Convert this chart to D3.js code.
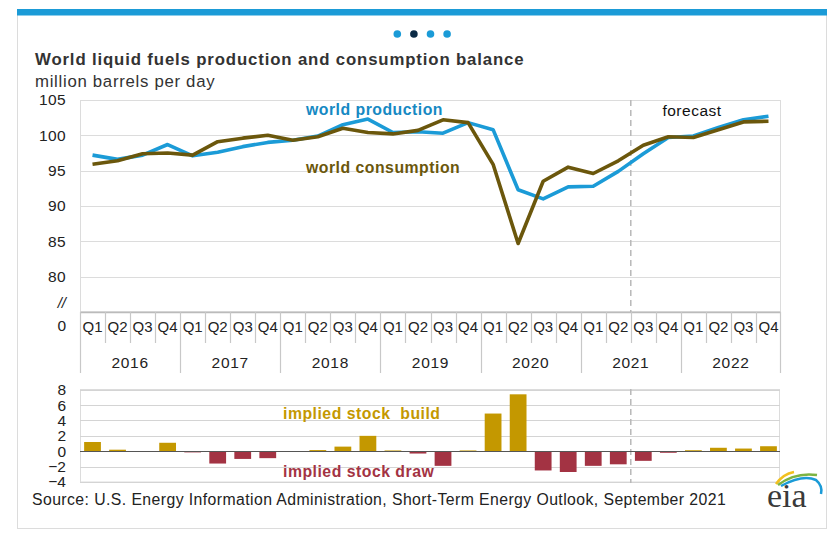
<!DOCTYPE html>
<html><head><meta charset="utf-8">
<script src="https://cdn.jsdelivr.net/npm/d3@7"></script>
<style>body{margin:0;background:#fff;}svg{display:block;font-family:"Liberation Sans",Arial,sans-serif;}</style>
</head><body><svg id="c" width="839" height="540"></svg>
<script>
const years = ["2016","2017","2018","2019","2020","2021","2022"];
const quarterNames = ["Q1","Q2","Q3","Q4"];
const production = [97.2,96.6,97.2,98.7,97.1,97.6,98.4,99.0,99.3,99.9,101.5,102.3,100.4,100.5,100.3,101.8,100.8,92.3,91.0,92.7,92.8,94.9,97.4,99.7,99.9,101.1,102.2,102.7];
const consumption = [95.9,96.4,97.4,97.5,97.2,99.1,99.6,100.0,99.3,99.8,101.0,100.4,100.2,100.7,102.2,101.8,95.9,84.7,93.5,95.5,94.6,96.4,98.6,99.8,99.7,100.8,101.9,102.0];
const stockChange = [1.2,0.2,-0.1,1.1,-0.15,-1.6,-1.0,-0.9,0.0,0.15,0.6,2.0,0.1,-0.3,-1.9,0.1,4.9,7.4,-2.5,-2.7,-1.9,-1.7,-1.25,-0.2,0.13,0.45,0.35,0.65];
const upperTicks = [80,85,90,95,100,105];
const lowerTicks = [-4,-2,0,2,4,6,8];

const quarters = [];
years.forEach(y => quarterNames.forEach(q => quarters.push(y + q)));

const svg = d3.select("#c");
// frame
svg.append("rect").attr("x",17.5).attr("y",9.5).attr("width",809).attr("height",519).attr("fill","#fff").attr("stroke","#dcdcdc");
svg.append("rect").attr("x",17).attr("y",9).attr("width",810).attr("height",6.5).attr("fill","#1b9bd7");
// dots
[0,1,2,3].forEach(i => svg.append("circle").attr("cx",397.3+i*16.6).attr("cy",34).attr("r",3.8)
  .attr("fill", i===1 ? "#0b2a45" : "#1b9bd7"));

svg.append("text").attr("x",35).attr("y",65).attr("font-size",16.8).attr("font-weight","bold").attr("fill","#333")
  .attr("letter-spacing",0.85).text("World liquid fuels production and consumption balance");
svg.append("text").attr("x",35).attr("y",87).attr("font-size",16.8).attr("fill","#333").attr("letter-spacing",0.7).text("million barrels per day");

const x = d3.scaleBand().domain(quarters).range([80,781]).paddingInner(0.33).paddingOuter(0.165);
const xc = d => x(d) + x.bandwidth()/2;
const step = x.step();

// ---- upper chart
const y = d3.scaleLinear().domain([75,105]).range([312,100]);
const up = svg.append("g");
up.append("rect").attr("x",80.5).attr("y",100.5).attr("width",700).attr("height",211).attr("fill","none").attr("stroke","#dcdcdc");
up.selectAll(".g").data(upperTicks).join("line").attr("x1",80).attr("x2",781)
  .attr("y1",d=>Math.round(y(d))+0.5).attr("y2",d=>Math.round(y(d))+0.5).attr("stroke","#dcdcdc").attr("stroke-width",1.2);
const yAx = up.append("g").attr("transform","translate(80,0)").call(d3.axisLeft(y).tickValues(upperTicks).tickSize(0).tickPadding(14));
yAx.select(".domain").remove();
yAx.selectAll("text").attr("font-size",15.5).attr("fill","#222").attr("letter-spacing",0.4).attr("font-family","Liberation Sans, Arial, sans-serif");
up.append("text").attr("x",66).attr("y",308).attr("text-anchor","end").attr("font-size",15).attr("font-style","italic").attr("fill","#222").text("//");
up.append("text").attr("x",66).attr("y",331).attr("text-anchor","end").attr("font-size",15.5).attr("fill","#222").text("0");

// x-axis
up.append("line").attr("x1",80).attr("x2",781).attr("y1",312.5).attr("y2",312.5).attr("stroke","#bbb").attr("stroke-width",1.5);
quarters.forEach((q,i) => {
  const left = 80 + i*step;
  const isYear = i % 4 === 0;
  up.append("line").attr("x1",Math.round(left)+0.5).attr("x2",Math.round(left)+0.5).attr("y1",312).attr("y2",isYear?373:343)
    .attr("stroke","#c8c8c8").attr("stroke-width",1.2);
});
up.append("line").attr("x1",780.5).attr("x2",780.5).attr("y1",312).attr("y2",373).attr("stroke","#c8c8c8").attr("stroke-width",1.2);
up.selectAll(".ql").data(quarters).join("text").attr("x",d=>xc(d)).attr("y",332).attr("text-anchor","middle")
  .attr("font-size",15).attr("fill","#222").text(d=>d.slice(4));
up.selectAll(".yl").data(years).join("text").attr("x",(d,i)=>80+(i*4+2)*step).attr("y",368).attr("text-anchor","middle")
  .attr("font-size",15.5).attr("letter-spacing",0.7).attr("fill","#222").text(d=>d);

// forecast line
const fx = 80 + 22*step;
up.append("line").attr("x1",fx).attr("x2",fx).attr("y1",100).attr("y2",312).attr("stroke","#b8b8b8").attr("stroke-width",1.5).attr("stroke-dasharray","6,4");
up.append("text").attr("x",692).attr("y",116).attr("text-anchor","middle").attr("font-size",15.5).attr("letter-spacing",0.5).attr("fill","#111").text("forecast");

const line = d3.line().x((d,i)=>xc(quarters[i])).y(d=>y(d));
up.append("path").datum(production).attr("d",line).attr("fill","none").attr("stroke","#1b9bd7").attr("stroke-width",3.6).attr("stroke-linejoin","round");
up.append("path").datum(consumption).attr("d",line).attr("fill","none").attr("stroke","#6b570c").attr("stroke-width",3.6).attr("stroke-linejoin","round");
up.append("text").attr("x",306).attr("y",115).attr("font-size",15.8).attr("font-weight","bold").attr("letter-spacing",0.5).attr("fill","#1689c3").text("world production");
up.append("text").attr("x",306).attr("y",173).attr("font-size",15.8).attr("font-weight","bold").attr("letter-spacing",0.5).attr("fill","#6b570c").text("world consumption");

// ---- lower chart
const y2 = d3.scaleLinear().domain([-4,8]).range([482,389.7]);
const lo = svg.append("g");
lo.append("rect").attr("x",80.5).attr("y",389.5).attr("width",699).attr("height",92.5).attr("fill","none").attr("stroke","#dcdcdc");
lo.selectAll(".g2").data(lowerTicks).join("line").attr("x1",80).attr("x2",780)
  .attr("y1",d=>Math.round(y2(d))+0.5).attr("y2",d=>Math.round(y2(d))+0.5).attr("stroke","#d4d4d4").attr("stroke-width",1.2);
lo.append("line").attr("x1",fx).attr("x2",fx).attr("y1",389).attr("y2",483).attr("stroke","#b8b8b8").attr("stroke-width",1.5).attr("stroke-dasharray","6,4");
lo.selectAll(".b").data(stockChange).join("rect")
  .attr("x",(d,i)=>x(quarters[i])).attr("width",x.bandwidth())
  .attr("y",d=>y2(Math.max(0,d))).attr("height",d=>Math.abs(y2(d)-y2(0)))
  .attr("fill",d=>d>=0?"#c49800":"#a33343");
lo.append("line").attr("x1",80).attr("x2",780).attr("y1",Math.round(y2(0))+0.5).attr("y2",Math.round(y2(0))+0.5).attr("stroke","#555").attr("stroke-width",1.2);
const y2Ax = lo.append("g").attr("transform","translate(80,0)").call(d3.axisLeft(y2).tickValues(lowerTicks).tickSize(0).tickPadding(14));
y2Ax.select(".domain").remove();
y2Ax.selectAll("text").attr("font-size",15.5).attr("fill","#222").attr("font-family","Liberation Sans, Arial, sans-serif");
lo.append("text").attr("x",283).attr("y",419).attr("font-size",15.8).attr("font-weight","bold").attr("letter-spacing",0.5).attr("fill","#c49800").attr("xml:space","preserve").text("implied stock  build");
lo.append("text").attr("x",283).attr("y",477).attr("font-size",15.8).attr("font-weight","bold").attr("letter-spacing",0.5).attr("fill","#a33343").text("implied stock draw");

svg.append("text").attr("x",32).attr("y",505).attr("font-size",15.8).attr("letter-spacing",0.42).attr("fill","#222")
  .text("Source: U.S. Energy Information Administration, Short-Term Energy Outlook, September 2021");

// eia logo
const lg = svg.append("g");
lg.append("path").attr("d","M776,484 Q783,474 794,472").attr("fill","none").attr("stroke","#f2c01e").attr("stroke-width",2.5);
lg.append("path").attr("d","M778,485 Q795,472 817,475").attr("fill","none").attr("stroke","#7cb342").attr("stroke-width",2.5);
lg.append("path").attr("d","M781,486 Q803,474 816,480 Q823,486 821,494").attr("fill","none").attr("stroke","#1b9bd7").attr("stroke-width",2.5);
lg.append("text").attr("x",767).attr("y",507).attr("font-size",34).attr("font-family","Liberation Serif, Times New Roman, serif").attr("fill","#3a3a3a").text("eia");
</script></body></html>
